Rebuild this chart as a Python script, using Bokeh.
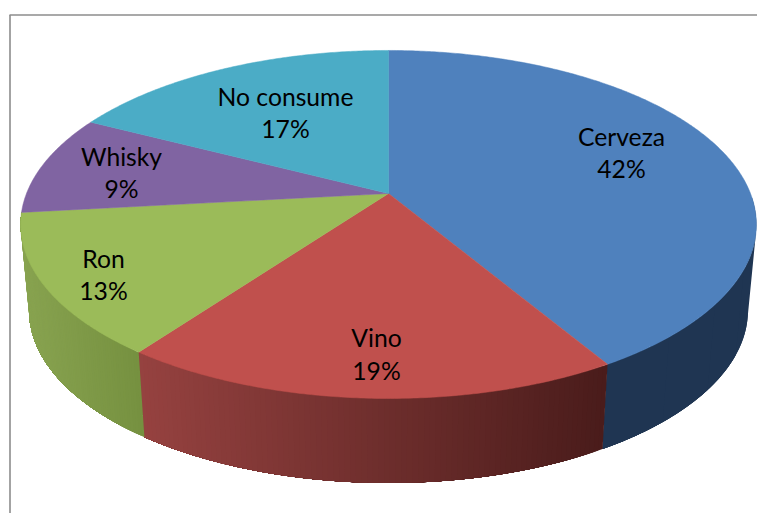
import numpy as np
from bokeh.plotting import figure
from bokeh.models import Range1d
from bokeh.core.properties import value
from bokeh.embed import file_html
from bokeh.resources import INLINE

# Data
categories = ["Cerveza", "Vino", "Ron", "Whisky", "No consume"]
percent = [42, 19, 13, 9, 17]

# Style
face_colors = ["#4f81bd", "#c0504d", "#9bbb59", "#8064a2", "#4bacc6"]
wall_left = ["#1f3552", "#964240", "#88a350"]
wall_right = ["#1f3552", "#4a1c1b", "#769140"]
label_xy = [(621, 136, 168), (376, 337, 370), (103, 258, 290), (121, 156, 188), (285, 96, 128)]
FONT = "Lato"
FS = "24.7px"

# Projection of the tilted disc (screen pixels, y downward)
AX, AY = 388.0, 193.0
K, A, B = 0.178, 168.5, 362.0
WARP = 8.0


def proj(theta_deg):
    shift = WARP * np.sin(np.radians(theta_deg) / 2) ** 2 * (theta_deg / 360) ** 1.5
    t = np.radians(theta_deg - shift)
    X, Y = np.sin(t), np.cos(t)
    d = 1 + K * Y
    return AX + B * X / d, AY - A * Y / d


def base(x, y):
    return AX + 0.977 * (x - AX), AY + 86.5 + 0.99 * (y - AY)


def hexmix(a, b, f):
    ca = [int(a[i:i + 2], 16) for i in (1, 3, 5)]
    cb = [int(b[i:i + 2], 16) for i in (1, 3, 5)]
    return "#%02x%02x%02x" % tuple(int(round(u + (v - u) * f)) for u, v in zip(ca, cb))


p = figure(width=757, height=513, x_range=Range1d(0, 757), y_range=Range1d(513, 0),
           toolbar_location=None, output_backend="svg", min_border=0,
           background_fill_color="white", border_fill_color="white")
p.axis.visible = False
p.grid.visible = False
p.outline_line_color = None

# Chart area border
p.line(x=[9.5, 9.5], y=[14.5, 513], line_color="#a3a3a3", line_width=2)
p.line(x=[9, 757], y=[14.6, 14.6], line_color="#8c8c8c", line_width=1.5)

edges = np.concatenate([[0], np.cumsum(percent)]) / sum(percent) * 360

# Side walls: overlapping strips painted in order so the shading has no seams
xs, ys, cs = [], [], []
for i in range(len(wall_left)):
    a0, a1 = max(edges[i], 92), edges[i + 1]
    sx, _ = proj(np.array([edges[i], edges[i + 1]]))
    lo, hi = min(sx), max(sx)
    th = np.linspace(a0, a1, 6 if i == 0 else 90)
    for j in range(len(th) - 1):
        tx, ty = proj(np.linspace(th[j], a1, 40))
        bx, by = base(tx, ty)
        xs.append(list(tx) + list(bx[::-1]))
        ys.append(list(ty) + list(by[::-1]))
        mx, _ = proj(np.array([th[j]]))
        f = float(np.clip((mx[0] - lo) / (hi - lo), 0, 1))
        cs.append(hexmix(wall_left[i], wall_right[i], f))
p.patches(xs, ys, fill_color=cs, line_color=None)

# Top faces
for i in range(len(categories)):
    n = max(8, int(edges[i + 1] - edges[i]) * 2)
    tx, ty = proj(np.linspace(edges[i], edges[i + 1], n))
    p.patch(np.r_[AX, tx], np.r_[AY, ty], fill_color=face_colors[i], line_color=face_colors[i], line_width=0.5)

# Labels
lx = [q[0] for q in label_xy]
p.text(lx, [q[1] for q in label_xy], text=categories, text_font=value(FONT), text_font_size=FS,
       text_color="black", text_align="center", text_baseline="middle")
p.text(lx, [q[2] for q in label_xy], text=[f"{v}%" for v in percent], text_font=value(FONT), text_font_size=FS,
       text_color="black", text_align="center", text_baseline="middle")

open("out.html", "w").write(file_html(p, INLINE))
